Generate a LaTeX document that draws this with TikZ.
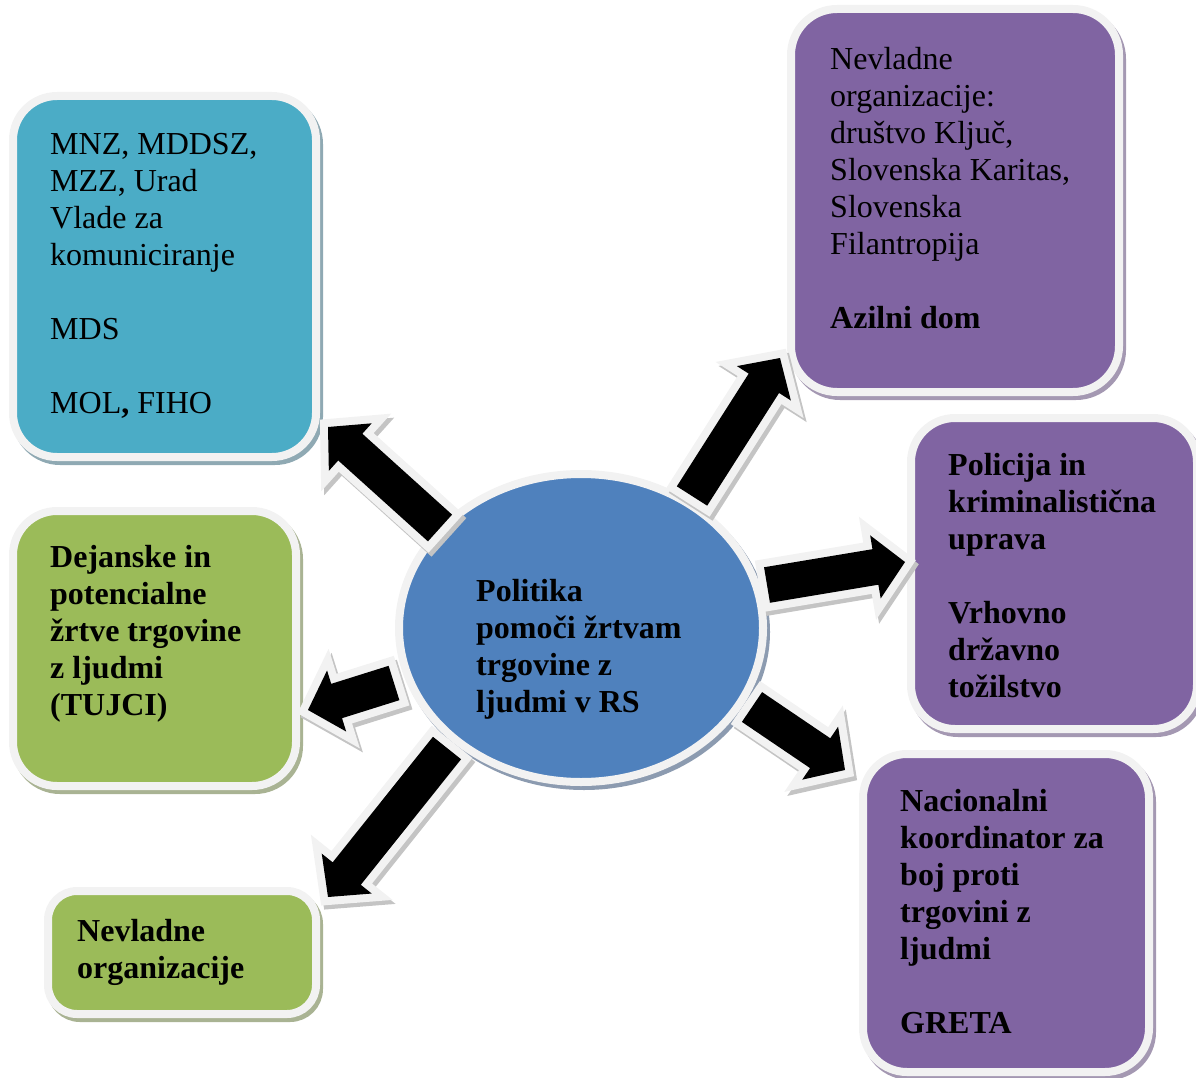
\documentclass[tikz,border=0pt]{standalone}
\usepackage{fontspec}
\setmainfont{Liberation Serif}
\usetikzlibrary{calc,shapes.geometric,shadows}
\definecolor{cblue}{HTML}{4BACC6}
\definecolor{cpurple}{HTML}{8064A2}
\definecolor{cgreen}{HTML}{9BBB59}
\definecolor{cell}{HTML}{4F81BD}
\definecolor{band}{HTML}{F2F2F2}
\definecolor{ashadow}{HTML}{C4C4C4}
\definecolor{sblue}{HTML}{8FA9B3}
\definecolor{spurple}{HTML}{A498B2}
\definecolor{sgreen}{HTML}{A9B393}
\definecolor{sell}{HTML}{8C9BB0}
\newcommand\arrpoly[3]{\path[#3] ($(#1)!18pt!90:(#2)$) -- ($(#1h)!18pt!90:(#2)$) -- ($(#1h)!32pt!90:(#2)$) -- (#2) -- ($(#1h)!32pt!-90:(#2)$) -- ($(#1h)!18pt!-90:(#2)$) -- ($(#1)!18pt!-90:(#2)$) -- cycle;}
\newcommand\blockarrow[2]{%
  \coordinate (#1h) at ($(#2)!30pt!(#1)$);
  \arrpoly{#1}{#2}{fill=ashadow, draw=ashadow, line width=16pt, line join=miter, transform canvas={shift={(3pt,-4pt)}}}
  \arrpoly{#1}{#2}{draw=band, line width=16pt, line join=miter}
  \arrpoly{#1}{#2}{fill=black}
}
\begin{document}
\begin{tikzpicture}[x=1pt,y=-1pt,
  box/.style args={#1/#2/#3}{rectangle, rounded corners=#3, fill=#1, draw=band, line width=8pt, inner sep=0pt,
    general shadow={shadow xshift=3pt, shadow yshift=-4pt, fill=#2, draw=#2, line width=8pt}},
  txt/.style={anchor=base west, inner sep=0pt, font=\fontsize{32}{37}\selectfont},
  btxt/.style={txt, font=\fontsize{32}{37}\selectfont\bfseries}]
\useasboundingbox (0,0) rectangle (1196,1078);
% boxes
\node[box=cblue/sblue/44pt, minimum width=303pt, minimum height=361pt] (b1) at (164.5,276.5) {};
\node[box=cpurple/spurple/46pt, minimum width=328pt, minimum height=383pt] (b2) at (955,200.5) {};
\node[box=cpurple/spurple/44pt, minimum width=286pt, minimum height=311pt] (b3) at (1054,573.5) {};
\node[box=cpurple/spurple/44pt, minimum width=286pt, minimum height=318pt] (b4) at (1006,913) {};
\node[box=cgreen/sgreen/44pt, minimum width=283pt, minimum height=275pt] (b5) at (154.5,648.5) {};
\node[box=cgreen/sgreen/29pt, minimum width=268pt, minimum height=123pt] (b6) at (182,952.5) {};
% centre
\node[ellipse, minimum width=364pt, minimum height=308pt, inner sep=0pt, fill=cell, draw=band, line width=8pt,
  general shadow={shadow xshift=3pt, shadow yshift=-4pt, fill=sell, draw=sell, line width=8pt}] (c) at (581,628) {};
% arrows
\coordinate (aT) at (440,528); \coordinate (aP) at (328,427);
\coordinate (bT) at (692,496); \coordinate (bP) at (780,358);
\coordinate (cT) at (767,585); \coordinate (cP) at (905,562);
\coordinate (dT) at (752,707); \coordinate (dP) at (845,770);
\coordinate (eT) at (447,748); \coordinate (eP) at (328,897);
\coordinate (fT) at (394,683); \coordinate (fP) at (308,710);
\blockarrow{aT}{aP}
\blockarrow{bT}{bP}
\blockarrow{cT}{cP}
\blockarrow{dT}{dP}
\blockarrow{eT}{eP}
\blockarrow{fT}{fP}
% texts
\node[txt] (t1) at (50,155) {\parbox[t]{300pt}{MNZ, MDDSZ,\\ MZZ, Urad\\ Vlade za\\ komuniciranje\\[37pt] MDS\\[37pt] MOL\textbf{,} FIHO}};
\node[txt] (t2) at (830,70) {\parbox[t]{300pt}{Nevladne\\ organizacije:\\ društvo Ključ,\\ Slovenska Karitas,\\ Slovenska\\ Filantropija\\[37pt] \textbf{Azilni dom}}};
\node[btxt] (t3) at (948,475) {\parbox[t]{300pt}{\bfseries Policija in\\ kriminalistična\\ uprava\\[37pt] Vrhovno\\ državno\\ tožilstvo}};
\node[btxt] (t4) at (900,811) {\parbox[t]{300pt}{\bfseries Nacionalni\\ koordinator za\\ boj proti\\ trgovini z\\ ljudmi\\[37pt] GRETA}};
\node[btxt] (t5) at (50,567) {\parbox[t]{300pt}{\bfseries Dejanske in\\ potencialne\\ žrtve trgovine\\ z ljudmi\\ (TUJCI)}};
\node[btxt] (t6) at (77,941) {\parbox[t]{300pt}{\bfseries Nevladne\\ organizacije}};
\node[btxt] (tc) at (476,601) {\parbox[t]{300pt}{\bfseries Politika\\ pomoči žrtvam\\ trgovine z\\ ljudmi v RS}};
\end{tikzpicture}
\end{document}
